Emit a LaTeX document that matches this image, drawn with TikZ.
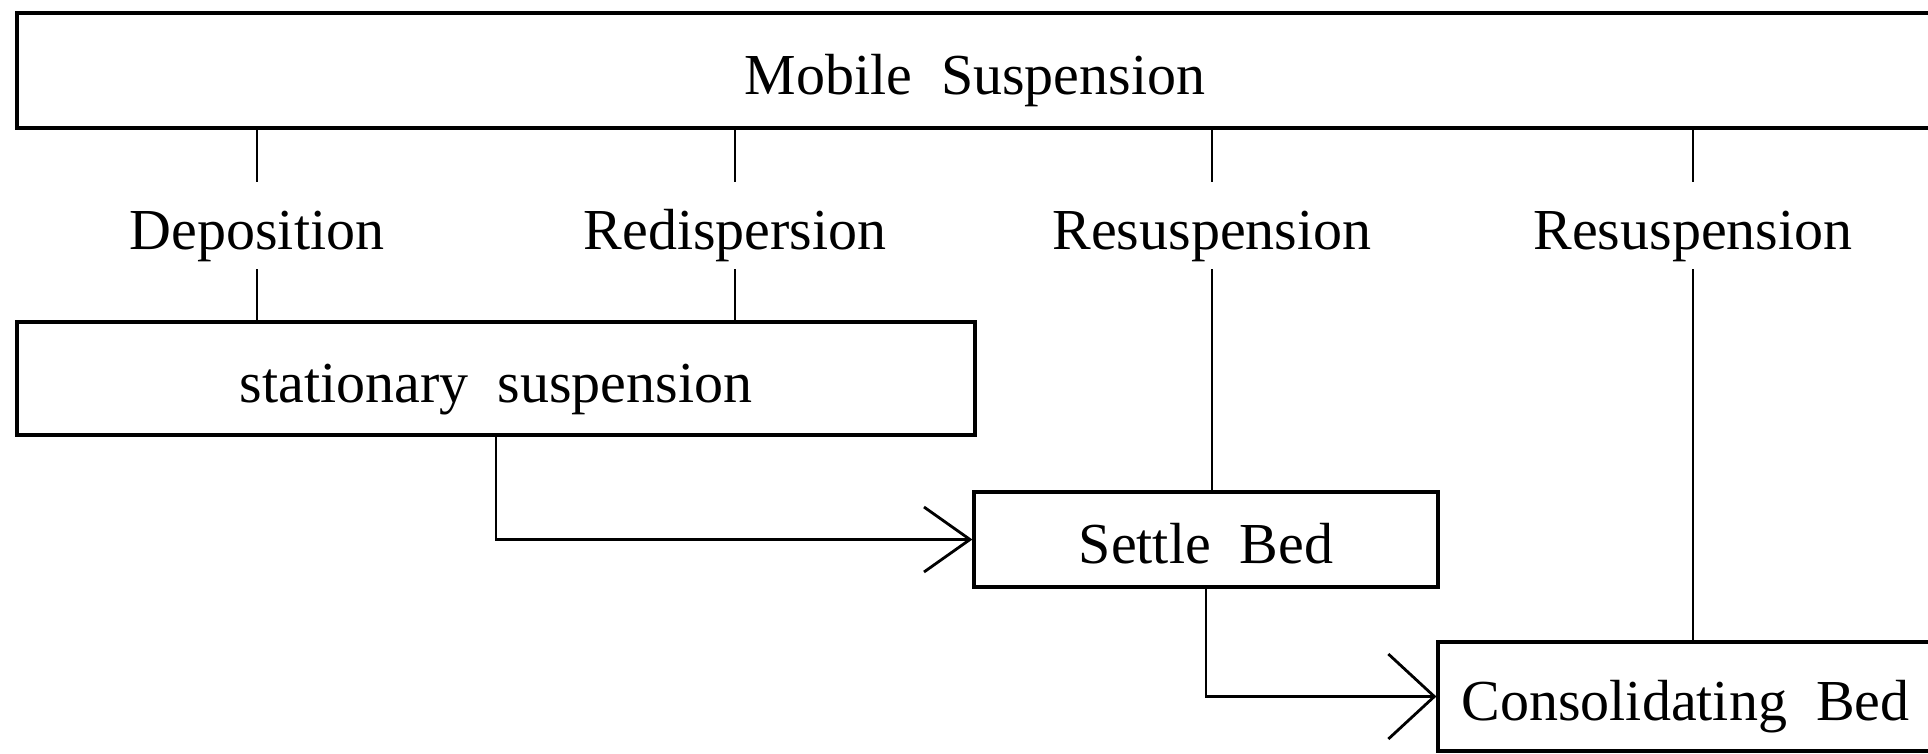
\documentclass[tikz,border=0pt]{standalone}
\usepackage{fontspec}
\setmainfont{Liberation Serif}[WordSpace=2]
\usepackage{tikz}
\usetikzlibrary{arrows.meta,positioning}

\begin{document}
\begin{tikzpicture}[line width=0.8pt,
  every node/.style={font=\fontsize{16.5}{20}\selectfont,text height=5.2mm,text depth=0.5mm},
  box/.style={draw,line width=0.9pt,inner sep=0pt},
  lbl/.style={inner sep=0pt,minimum height=8.5mm},
  arr/.style={-{Straight Barb[length=4.6mm,width=#1]}}]
  \useasboundingbox (0,0) rectangle (19.28,-7.53);
  \node[box,minimum width=19.16cm,minimum height=11.5mm] (mob) at (9.75,-0.705)
    {Mobile Suspension};
  \node[lbl] (dep)  at (2.57,-2.255)  {Deposition};
  \node[lbl] (red)  at (7.35,-2.255)  {Redispersion};
  \node[lbl] (res1) at (12.12,-2.255) {Resuspension};
  \node[lbl] (res2) at (16.93,-2.255) {Resuspension};
  \node[box,minimum width=9.58cm,minimum height=11.3mm] (stat) at (4.96,-3.785)
    {stationary suspension};
  \node[box,minimum width=4.64cm,minimum height=9.5mm] (settle) at (12.06,-5.395)
    {Settle Bed};
  \node[box,minimum width=4.95cm,minimum height=10.9mm] (cons) at (16.855,-6.965)
    {Consolidating Bed};

  \draw (mob.south -| dep) -- (dep.north);
  \draw (dep.south) -- (stat.north -| dep);
  \draw (mob.south -| red) -- (red.north);
  \draw (red.south) -- (stat.north -| red);
  \draw (mob.south -| res1) -- (res1.north);
  \draw (res1.south) -- (settle.north -| res1);
  \draw (mob.south -| res2) -- (res2.north);
  \draw (res2.south) -- (cons.north -| res2);

  \draw[arr=6.5mm] (stat.south) |- (settle.west);
  \draw[arr=8.5mm] (settle.south) |- (cons.west);
\end{tikzpicture}
\end{document}
